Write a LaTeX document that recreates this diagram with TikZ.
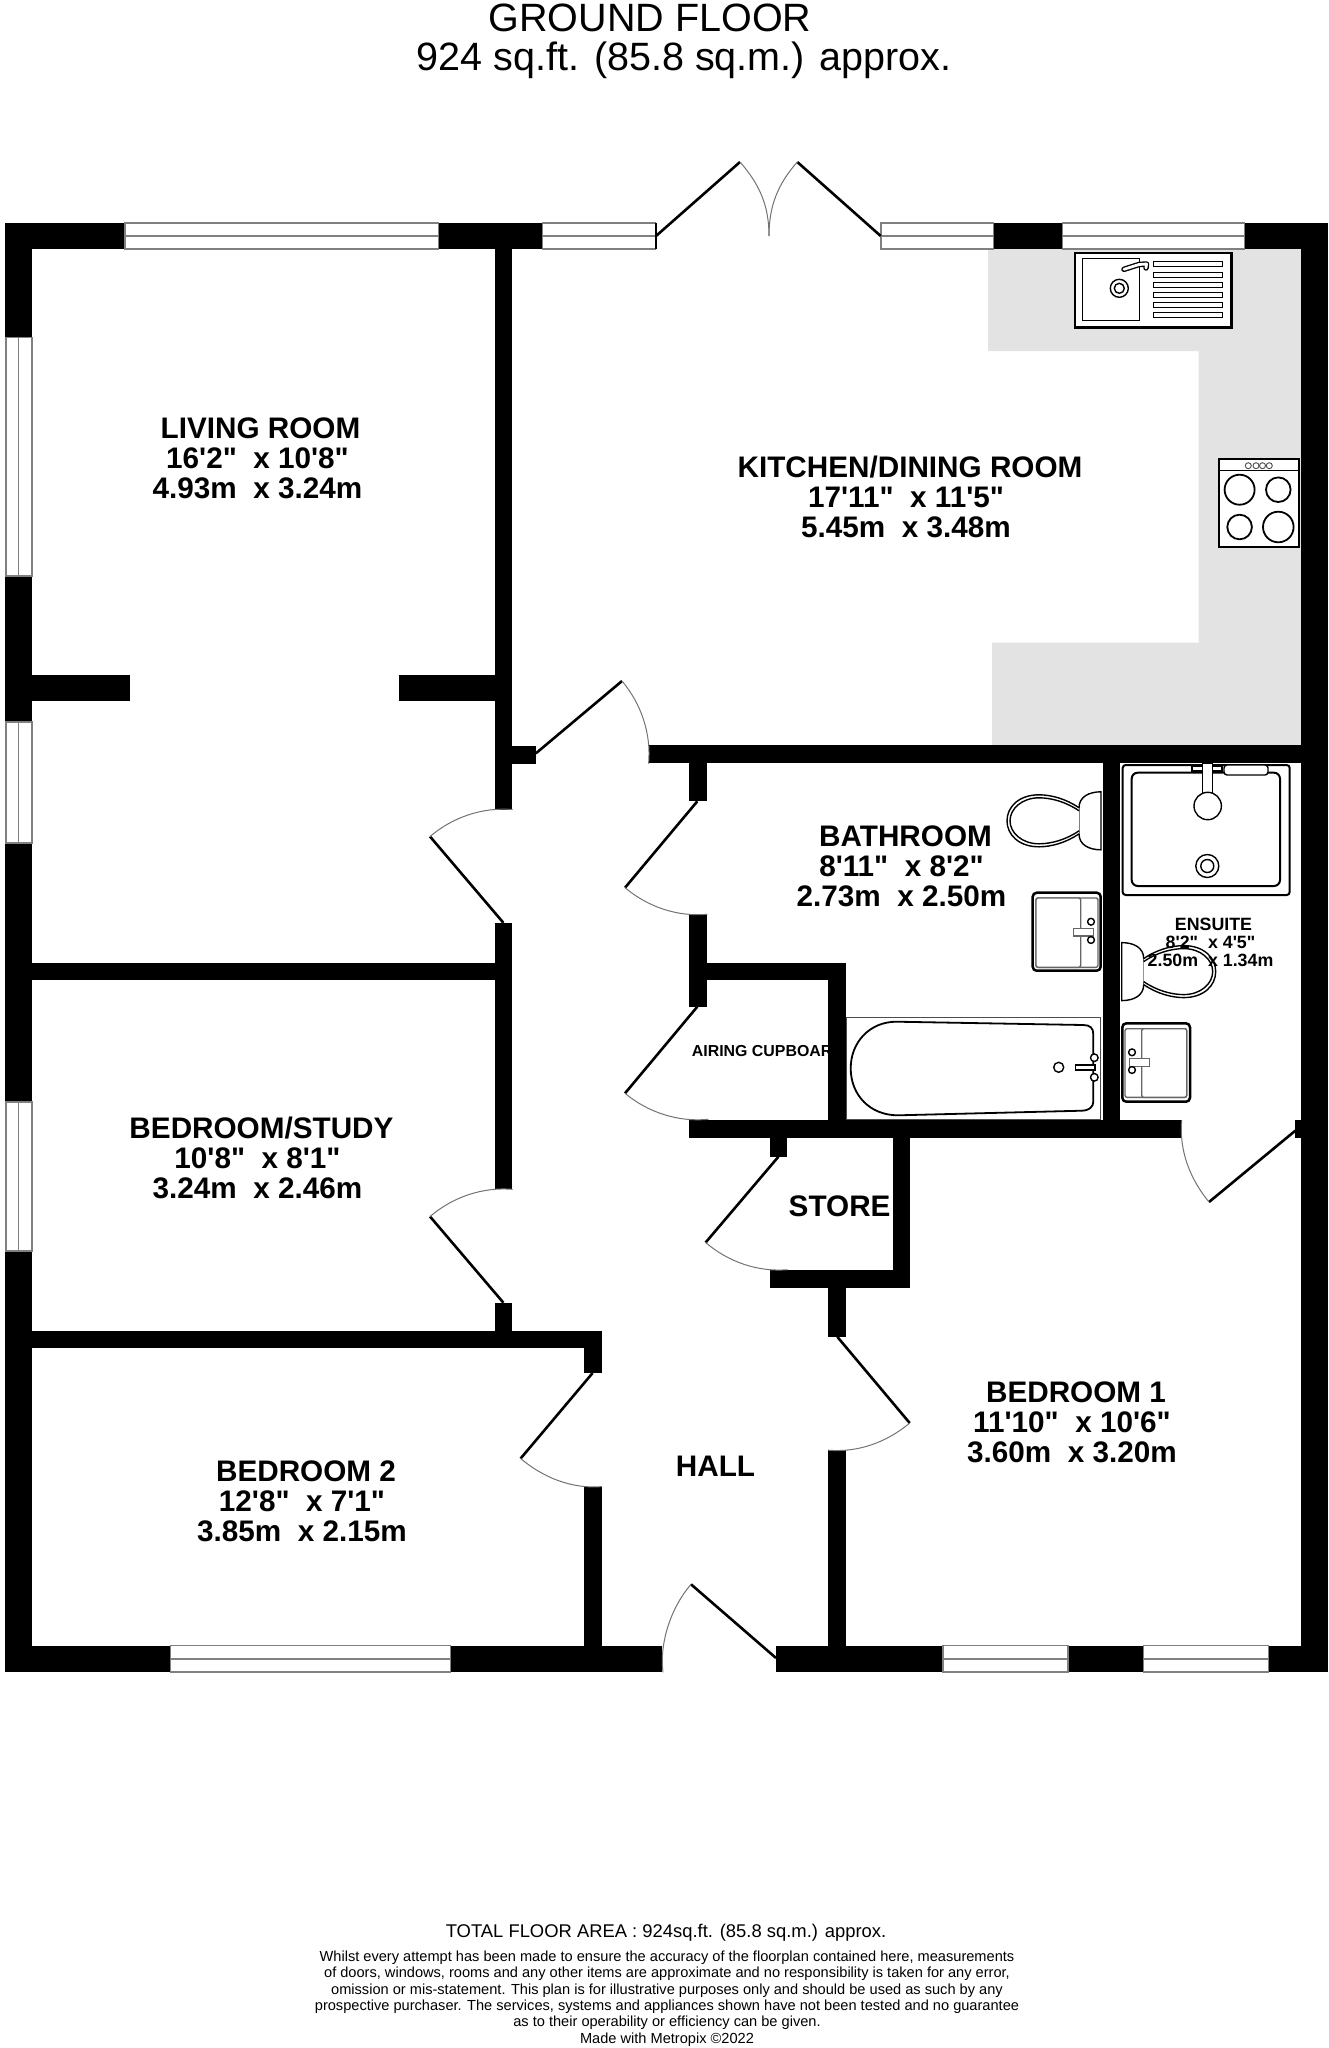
\documentclass[tikz,border=0pt]{standalone}
\usepackage{fontspec}
\newfontfamily\planfont{Liberation Sans}
\usetikzlibrary{calc}
\definecolor{counter}{HTML}{E3E3E3}
\definecolor{glaze}{HTML}{808080}
\tikzset{
  wall/.style={fill=black,draw=none},
  glassbox/.style={fill=white,draw=glaze,line width=1.6pt},
  glassline/.style={draw=glaze,line width=1.6pt},
  leaf/.style={draw=black,line width=2.6pt},
  swing/.style={draw=black!55,line width=1pt},
  fit1/.style={draw=black,fill=white,line width=2.5pt},
  fit2/.style={draw=black,fill=white,line width=1.4pt},
  fitgray/.style={draw=black!60,fill=white,line width=1.4pt},
  roomlabel/.style={font=\planfont\bfseries\fontsize{29.7}{30}\selectfont,align=center,inner sep=0pt},
  smalllabel/.style={font=\planfont\bfseries\fontsize{17.8}{18.2}\selectfont,align=center,inner sep=0pt},
  titlelabel/.style={font=\planfont\fontsize{39.5}{40}\selectfont,inner sep=0pt},
  footlabel/.style={font=\planfont\fontsize{14.6}{16.3}\selectfont,align=center,inner sep=0pt},
}
\newcommand{\wb}[4]{\fill[wall] (#1,#2) rectangle (#3,#4);}
\newcommand{\winh}[3]{\draw[glassbox] (#1,222.9) rectangle (#2,#3);\draw[glassline] (#1,{(222.9+#3)/2}) -- (#2,{(222.9+#3)/2});}
\newcommand{\winv}[2]{\draw[glassbox] (5.9,#1) rectangle (32,#2);\draw[glassline] (18.5,#1) -- (18.5,#2);}
\newcommand{\winb}[2]{\draw[glassbox] (#1,1645.6) rectangle (#2,1672);\draw[glassline] (#1,1659) -- (#2,1659);}
\newcommand{\door}[4]{%
  \draw[leaf] (#1) -- (#2);
  \draw[swing] (#2) .. controls ($(#2)!0.266!#4:(#1)$) and ($(#3)!0.266!-#4:(#1)$) .. (#3);}
\newcommand{\closet}{%
  \draw[fit2] (0,-29) .. controls (-12,-29) and (-22,-24) .. (-22,-13) -- (-22,13) .. controls (-22,24) and (-12,29) .. (0,29) -- cycle;
  \draw[fit2] (-22,-13) .. controls (-35,-22) and (-50,-26) .. (-62,-26) .. controls (-82,-26) and (-94,-14) .. (-94,0) .. controls (-94,14) and (-82,26) .. (-62,26) .. controls (-50,26) and (-35,22) .. (-22,13);
  \draw[fit2] (-22,-10) .. controls (-35,-19) and (-50,-23) .. (-62,-23) .. controls (-79,-23) and (-91,-12) .. (-91,0) .. controls (-91,12) and (-79,23) .. (-62,23) .. controls (-50,23) and (-35,19) .. (-22,10);}
\begin{document}
\begin{tikzpicture}[x=1pt,y=-1pt]
\useasboundingbox (0,0) rectangle (1329,2048);
\fill[white] (0,0) rectangle (1329,2048);

% kitchen counter
\fill[counter] (988,249) -- (1301,249) -- (1301,745) -- (992,745) -- (992,642.5) -- (1198.5,642.5) -- (1198.5,351) -- (988,351) -- cycle;

% sink
\draw[fit1] (1075,253) rectangle (1231.7,327.3);
\draw[fit2] (1082.7,258.3) rectangle (1139.7,320.3);
\foreach \yy in {264.3,274.7,284.7,295,305,315.3}
  \draw[fit2,line width=1pt] (1153.3,\yy-2.5) rectangle (1222.7,\yy+2.5);
\draw[fit2] (1119.3,288.3) circle (9);
\draw[fit2] (1119.3,288.3) circle (5);
\draw[line width=5.5pt,line cap=round,line join=round] (1124,269.3) -- (1139,264.5) -- (1146.5,264) -- (1146,268);
\draw[white,line width=2.8pt,line cap=round,line join=round] (1124,269.3) -- (1139,264.5) -- (1146.5,264) -- (1146,268);

% hob
\draw[fit1,line width=2pt] (1219.3,459.3) rectangle (1299.3,546.7);
\draw[line width=1.4pt] (1219.3,470.7) -- (1299.3,470.7);
\foreach \xx in {1248.3,1256,1262.5,1269.3}
  \draw[draw=black!70,line width=.9pt] (\xx,465.7) circle (3);
\draw[fit2,line width=1.8pt] (1239.6,489.7) circle (15);
\draw[fit2,line width=1.8pt] (1278.3,489.7) circle (12.3);
\draw[fit2,line width=1.8pt] (1239.6,527) circle (12.3);
\draw[fit2,line width=1.8pt] (1278.3,527) circle (15.3);

% bath
\draw[draw=black!70,fill=white,line width=1.5pt] (846.5,1017.3) rectangle (1100.7,1119.3);
\draw[fit2,line width=1.8pt] (896.7,1021.7) -- (1083.3,1025) .. controls (1090,1025) and (1093.3,1028) .. (1093.3,1034) -- (1093.3,1101.7) .. controls (1093.3,1107) and (1089,1110.5) .. (1081.7,1110.7) -- (898.3,1115.3) .. controls (870,1115.5) and (850.7,1095) .. (850.7,1068.3) .. controls (850.7,1042) and (870,1021.5) .. (896.7,1021.7) -- cycle;
\draw[fit2] (1058.7,1067.3) circle (5);
\draw[fit2] (1075.5,1065) rectangle (1095,1070);
\draw[fit2] (1094.3,1057.7) circle (3.8);
\draw[fit2] (1094.3,1077.3) circle (3.8);

% bathroom toilet and basin
\begin{scope}[shift={(1101,820.8)}]\closet\end{scope}
\draw[fit1,rounded corners=4pt] (1032.7,892.7) rectangle (1100.7,970.7);
\draw[fitgray,rounded corners=2pt] (1036,898) rectangle (1098,967.3);
\draw[fitgray,rounded corners=2pt] (1036,898) rectangle (1080.7,967.3);
\draw[fitgray] (1073.3,928.3) rectangle (1093.3,936);
\draw[fit2] (1091,921.7) circle (3.4);
\draw[fit2] (1091,940) circle (3.4);

% ensuite shower
\draw[fit1,line width=2pt,rounded corners=3pt] (1122.7,765) rectangle (1289.7,895);
\draw[fit1,line width=2pt,rounded corners=6pt] (1131.7,772.7) rectangle (1280,886);
\draw[fit2,rounded corners=3pt] (1224,765) rectangle (1268,775);
\draw[fit2] (1192,766) rectangle (1222,771);
\draw[fit2] (1202.7,763) rectangle (1212.7,795);
\draw[fit2] (1207.7,806) circle (13.7);
\draw[fit2] (1207.3,866) circle (11.5);
\draw[fit2] (1207.3,866) circle (6.5);

% ensuite toilet and basin
\begin{scope}[shift={(1121.7,971.6)},xscale=-1]\closet\end{scope}
\draw[fit1,rounded corners=4pt] (1122.3,1023.3) rectangle (1190,1101.7);
\draw[fitgray,rounded corners=2pt] (1125,1028.7) rectangle (1186.7,1097.3);
\draw[fitgray,rounded corners=2pt] (1141.7,1028.7) rectangle (1186.7,1097.3);
\draw[fitgray] (1129.3,1058.3) rectangle (1149.3,1066.7);
\draw[fit2] (1132,1052.3) circle (3.4);
\draw[fit2] (1132,1070) circle (3.4);

% labels that the walls partly hide
\node[anchor=west,inner sep=0pt,font=\planfont\bfseries\fontsize{15.9}{16}\selectfont] (airing) at (691.7,1051) {AIRING CUPBOAR};
\node[roomlabel] (store) at (839.6,1206) {STORE};

% walls
\wb{5}{222.9}{656}{249}
\wb{881}{222.9}{1328}{249}
\wb{5}{222.9}{32}{1672}
\wb{1300.7}{222.9}{1328}{1672}
\wb{5}{1645.6}{662}{1672}
\wb{776}{1645.6}{1328}{1672}
\wb{32}{674.8}{129.6}{701.3}
\wb{399.4}{674.8}{494.5}{701.3}
\wb{494.5}{222.9}{512}{809.5}
\wb{512}{745.7}{535.8}{763.6}
\wb{494.5}{922.8}{512}{1189.3}
\wb{32}{962.6}{512}{980.4}
\wb{494.5}{1302.7}{512}{1348.2}
\wb{32}{1330.8}{602}{1348.2}
\wb{584}{1330.8}{602}{1373}
\wb{584}{1486.6}{602}{1672}
\wb{649}{745}{1328}{762.7}
\wb{689}{745}{706.7}{801.3}
\wb{689}{914.3}{706.7}{1006.7}
\wb{706.7}{962.7}{846}{980.3}
\wb{828.3}{962.7}{846}{1138}
\wb{689}{1120.3}{1182}{1138}
\wb{1102.7}{745}{1120.3}{1138}
\wb{1295}{1120.3}{1301}{1138}
\wb{769.8}{1120.3}{787}{1156.7}
\wb{892.5}{1120.3}{909.7}{1287.7}
\wb{769.8}{1269.7}{909.7}{1287.7}
\wb{828.2}{1269.7}{845.9}{1336.8}
\wb{828.2}{1450.2}{845.9}{1672}

% windows
\winh{125}{438.6}{249}
\winh{542.5}{655.3}{249}
\winh{881}{993.3}{249}
\winh{1062.3}{1244.3}{249}
\winv{337.5}{575.8}
\winv{722}{842.7}
\winv{1101.8}{1250.9}
\winb{170.5}{450.3}
\winb{942.8}{1068}
\winb{1143.3}{1268.3}
\draw[line width=2pt] (656,223) -- (656,249);

% doors
\door{656,236}{740,162}{769,236}{90}
\door{880.7,236}{797.3,162}{769,236}{-90}
\door{535.8,753.4}{622,681}{648.6,763.6}{90}
\door{503.4,922.8}{430,836.5}{512.6,809.5}{90}
\door{503.4,1302.7}{430,1216.5}{512.6,1189.3}{90}
\door{592.6,1373}{520.6,1458.5}{602,1486.6}{-90}
\door{697.3,801.3}{625,887.7}{707.3,914.3}{-90}
\door{697.3,1006.7}{625,1093.3}{708.3,1119.3}{-90}
\door{778.4,1156.7}{705.6,1242.5}{787.5,1269.7}{-90}
\door{837.3,1336.8}{909.7,1423}{828.2,1450.2}{90}
\door{1295.4,1130.6}{1209,1202}{1181.7,1120.3}{90}
\door{776,1658}{691,1584.3}{663,1672.4}{-90}

% texts
\node[titlelabel] (title1) at (650,18) {GROUND FLOOR};
\node[titlelabel] (title2) at (684,60) {924 sq.ft. (85.8 sq.m.) approx.};
\node[roomlabel] (living) at (257.5,458.5) {\hspace*{6pt}LIVING ROOM\\16'2"\ \ x 10'8"\\4.93m\ \ x 3.24m};
\node[roomlabel] (kitchen) at (906,497) {\hspace*{8pt}KITCHEN/DINING ROOM\\17'11"\ \ x 11'5"\\5.45m\ \ x 3.48m};
\node[roomlabel] (bathroom) at (901.5,866.7) {\hspace*{8pt}BATHROOM\\8'11"\ \ x 8'2"\\2.73m\ \ x 2.50m};
\node[roomlabel] (study) at (257.5,1157.5) {\hspace*{8pt}BEDROOM/STUDY\\10'8"\ \ x 8'1"\\3.24m\ \ x 2.46m};
\node[roomlabel] (bed2) at (302,1501) {\hspace*{8pt}BEDROOM 2\\12'8"\ \ x 7'1"\\3.85m\ \ x 2.15m};
\node[roomlabel] (bed1) at (1072,1422) {\hspace*{8pt}BEDROOM 1\\11'10"\ \ x 10'6"\\3.60m\ \ x 3.20m};
\node[roomlabel] (hall) at (715.5,1466) {HALL};
\node[smalllabel] (ensuite) at (1210.5,942.5) {\hspace*{6pt}ENSUITE\\8'2"\ \ x 4'5"\\2.50m\ \ x 1.34m};
\node[inner sep=0pt,font=\planfont\fontsize{18.4}{20}\selectfont] (total) at (666,1932.8) {TOTAL FLOOR AREA : 924sq.ft. (85.8 sq.m.) approx.};
\node[footlabel] (terms) at (667,1998.5) {Whilst every attempt has been made to ensure the accuracy of the floorplan contained here, measurements\\of doors, windows, rooms and any other items are approximate and no responsibility is taken for any error,\\omission or mis-statement. This plan is for illustrative purposes only and should be used as such by any\\prospective purchaser. The services, systems and appliances shown have not been tested and no guarantee\\as to their operability or efficiency can be given.\\Made with Metropix \textcopyright 2022};
\end{tikzpicture}
\end{document}
